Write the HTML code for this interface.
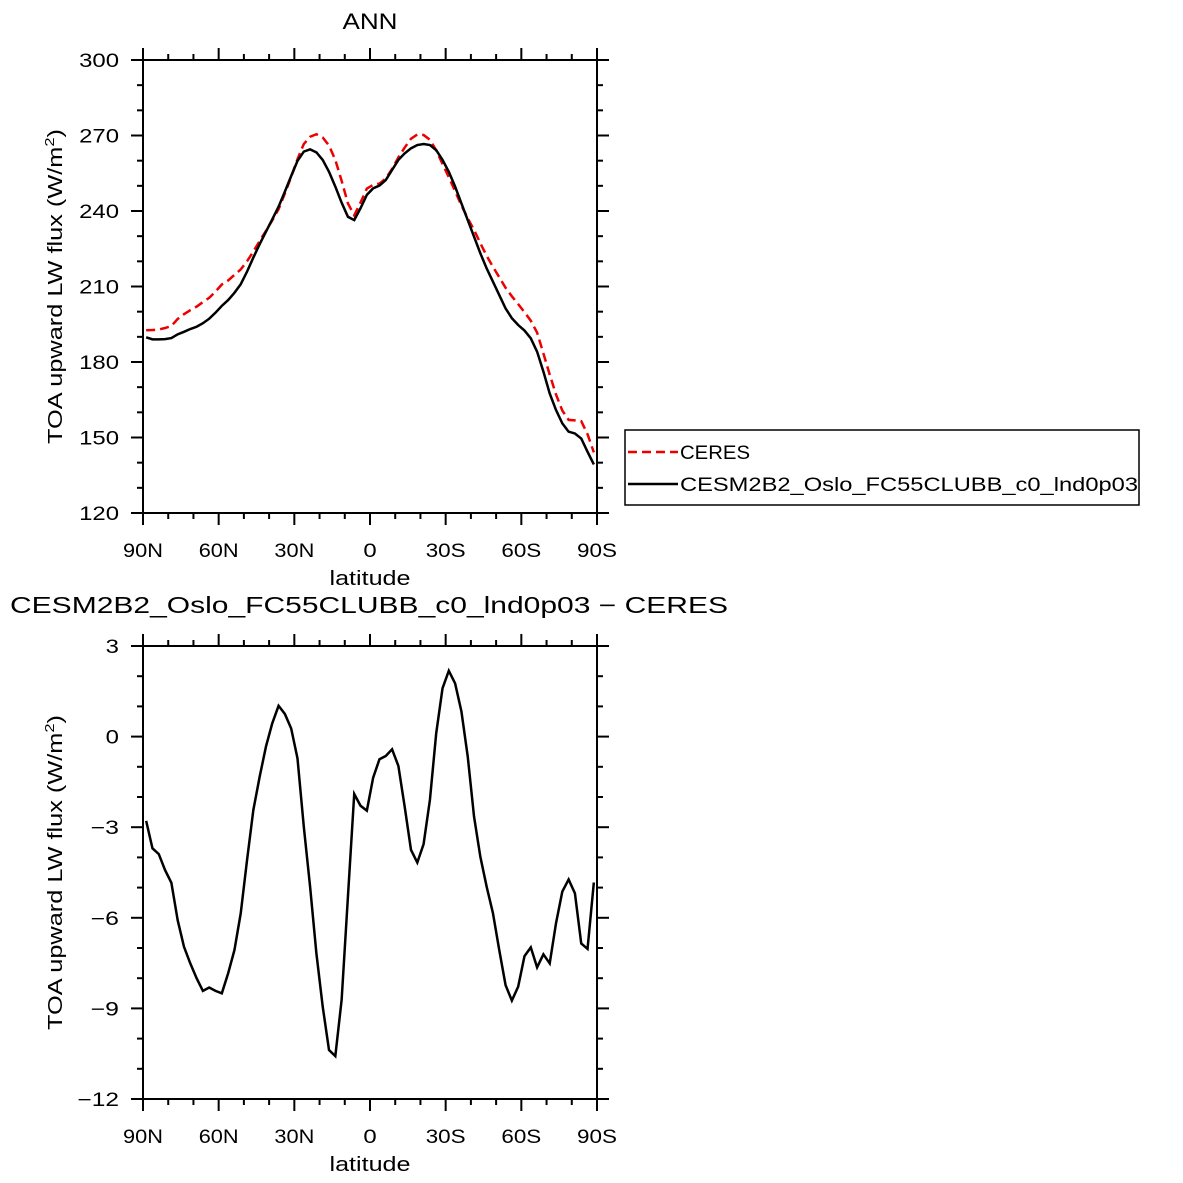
<!DOCTYPE html>
<html><head><meta charset="utf-8"><style>
html,body{margin:0;padding:0;background:#fff}
svg{display:block;font-family:"Liberation Sans",Arial,sans-serif}
</style></head><body>
<svg id="chart" width="1183" height="1183" viewBox="0 0 1183 1183" xmlns="http://www.w3.org/2000/svg">
<rect width="1183" height="1183" fill="#fff"/>
</svg>
<script>
const model = [189.8,189.0,189.0,189.1,189.5,191.0,192.0,193.1,194.0,195.4,197.2,199.6,202.3,204.6,207.5,210.9,215.9,221.5,226.8,231.8,236.7,241.7,247.7,253.9,259.9,263.6,264.5,263.3,260.3,255.6,249.7,243.3,237.7,236.4,241.1,246.4,249.0,250.1,252.3,256.3,260.3,262.9,264.9,266.2,266.6,266.2,264.2,260.3,255.6,249.7,243.0,236.4,229.8,223.2,217.2,211.9,206.6,201.3,197.4,194.7,192.5,189.4,184.1,176.2,167.5,160.9,155.6,152.3,151.6,149.6,144.3,139.3];
const ceres = [192.6,192.7,192.9,193.5,194.3,197.1,199.0,200.6,202.0,203.8,205.5,208.0,210.8,212.4,214.6,216.8,220.0,223.9,228.1,232.1,236.3,240.7,247.0,253.6,260.6,266.6,269.5,270.5,269.2,266.0,260.3,252.0,243.0,238.3,243.4,248.9,250.4,250.9,252.9,256.7,261.3,265.2,268.7,270.4,270.2,268.3,264.1,258.7,253.4,247.9,242.2,237.1,232.5,227.2,222.2,217.8,213.7,209.5,206.1,203.0,199.8,196.4,191.7,183.4,175.0,167.1,160.7,157.0,156.8,156.5,151.3,144.1];
const diff = [-2.79,-3.70,-3.89,-4.42,-4.84,-6.08,-6.96,-7.51,-8.0,-8.42,-8.31,-8.42,-8.50,-7.84,-7.07,-5.85,-4.09,-2.43,-1.33,-0.33,0.44,1.02,0.75,0.27,-0.72,-2.98,-4.97,-7.18,-8.94,-10.38,-10.58,-8.72,-5.30,-1.90,-2.29,-2.45,-1.36,-0.75,-0.64,-0.42,-0.97,-2.32,-3.75,-4.17,-3.56,-2.10,0.11,1.60,2.18,1.76,0.83,-0.66,-2.65,-3.98,-4.97,-5.85,-7.07,-8.23,-8.74,-8.28,-7.27,-6.98,-7.64,-7.21,-7.51,-6.18,-5.13,-4.73,-5.19,-6.85,-7.03,-4.83];
const xTickLabels = ["90N","60N","30N","0","30S","60S","90S"];
const xTickLats = [90,60,30,0,-30,-60,-90];
const topYTicks = [120,150,180,210,240,270,300];
const botYTicks = [-12,-9,-6,-3,0,3];
const botYLabels = ["\u221212","\u22129","\u22126","\u22123","0","3"];

const NS="http://www.w3.org/2000/svg";
const svg=document.getElementById('chart');
function mk(tag,attrs,parent){const e=document.createElementNS(NS,tag);for(const k in attrs)e.setAttribute(k,attrs[k]);(parent||svg).appendChild(e);return e;}
const lats = model.map((_,i)=>88.75-2.5*i);
const X0=143,X1=597;
function xs(lat){return X0+(90-lat)/180*(X1-X0);}
function tlen(s){let w=0;for(const c of s){w+=(c==='\u2212')?15:13.3;}return w;}

function panel(name,y0,y1,ymin,ymax,yticks,ylabels,minorStep){
  const ys=v=>y1-(v-ymin)/(ymax-ymin)*(y1-y0);
  const g=mk('g',{});
  
  
  for(let v=ymin;v<=ymax+1e-9;v+=minorStep){
    const y=ys(v);const major=yticks.some(t=>Math.abs(t-v)<1e-6);const L=major?12:6;
    mk('line',{x1:X0,x2:X0-L,y1:y,y2:y,stroke:'#000','stroke-width':2},g);
    mk('line',{x1:X1,x2:X1+L,y1:y,y2:y,stroke:'#000','stroke-width':2},g);
  }
  for(let lat=90;lat>=-90;lat-=10){
    const x=xs(lat);const major=lat%30===0;const L=major?12:6;
    mk('line',{x1:x,x2:x,y1:y1,y2:y1+L,stroke:'#000','stroke-width':2},g);
    mk('line',{x1:x,x2:x,y1:y0,y2:y0-L,stroke:'#000','stroke-width':2},g);
  }
  yticks.forEach((t,i)=>{
    const s=ylabels[i];
    const tx=mk('text',{x:119,y:ys(t)+7,'text-anchor':'end','font-size':19,fill:'#000',textLength:tlen(s),lengthAdjust:'spacingAndGlyphs'},g);
    tx.textContent=s;
    
    
  });
  xTickLats.forEach((lat,i)=>{
    const s=xTickLabels[i];
    const tx=mk('text',{x:xs(lat),y:y1+44,'text-anchor':'middle','font-size':19,fill:'#000',textLength:tlen(s),lengthAdjust:'spacingAndGlyphs'},g);
    tx.textContent=s;
    
    
  });
  const xl=mk('text',{x:370,y:y1+72,'text-anchor':'middle','font-size':20,fill:'#000',textLength:81,lengthAdjust:'spacingAndGlyphs'},g);
  xl.textContent='latitude';
  
  
  const cy=(y0+y1)/2;
  const yl=mk('text',{x:62,y:cy,'text-anchor':'middle','font-size':20,fill:'#000',transform:`rotate(-90 62 ${cy})`,textLength:315,lengthAdjust:'spacingAndGlyphs'},g);
  yl.innerHTML='TOA upward LW flux (W/m<tspan dy="-8" font-size="13">2</tspan><tspan dy="8">)</tspan>';
  
  
  const fr=mk('rect',{x:X0,y:y0,width:X1-X0,height:y1-y0,fill:'none',stroke:'#000','stroke-width':2},g);
  
  
  return ys;
}

const ysT=panel('top-panel',60,513,120,300,topYTicks,topYTicks.map(String),10);
const pc=mk('polyline',{points:ceres.map((v,i)=>xs(lats[i])+','+ysT(v)).join(' '),fill:'none',stroke:'#e00','stroke-width':2.5,'stroke-dasharray':'9,5'});


const pm=mk('polyline',{points:model.map((v,i)=>xs(lats[i])+','+ysT(v)).join(' '),fill:'none',stroke:'#000','stroke-width':2.5});



const ysB=panel('bottom-panel',646,1099,-12,3,botYTicks,botYLabels,1);
const pd=mk('polyline',{points:diff.map((v,i)=>xs(lats[i])+','+ysB(v)).join(' '),fill:'none',stroke:'#000','stroke-width':2.5});



const t1=mk('text',{x:370,y:29,'text-anchor':'middle','font-size':22,fill:'#000',textLength:55,lengthAdjust:'spacingAndGlyphs'});
t1.textContent='ANN';


const t2=mk('text',{x:10,y:613,'font-size':23,fill:'#000',textLength:718,lengthAdjust:'spacingAndGlyphs'});
t2.textContent='CESM2B2_Oslo_FC55CLUBB_c0_lnd0p03 \u2212 CERES';



const lg=mk('g',{});


mk('rect',{x:625,y:430,width:514,height:75,fill:'#fff',stroke:'#000','stroke-width':1.5},lg);
const e1=mk('g',{},lg);


mk('line',{x1:628,x2:678,y1:452,y2:452,stroke:'#e00','stroke-width':2.5,'stroke-dasharray':'9,5'},e1);
const l1=mk('text',{x:680,y:459,'font-size':19,fill:'#000',textLength:70,lengthAdjust:'spacingAndGlyphs'},e1);l1.textContent='CERES';
const e2=mk('g',{},lg);


mk('line',{x1:628,x2:678,y1:484,y2:484,stroke:'#000','stroke-width':2.5},e2);
const l2=mk('text',{x:680,y:491,'font-size':19,fill:'#000',textLength:458,lengthAdjust:'spacingAndGlyphs'},e2);l2.textContent='CESM2B2_Oslo_FC55CLUBB_c0_lnd0p03';
</script>
</body></html>
